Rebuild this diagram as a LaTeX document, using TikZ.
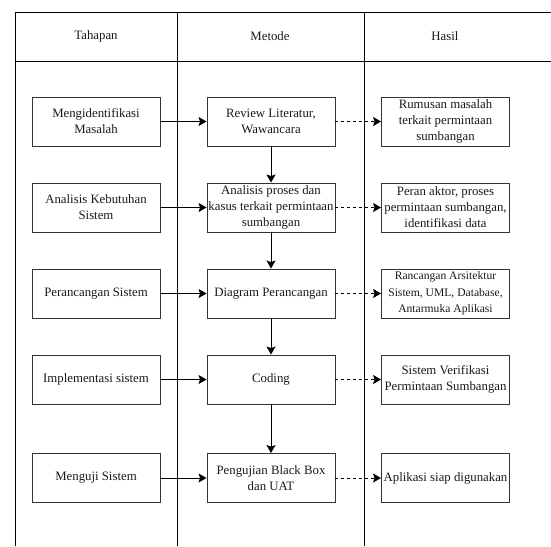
\documentclass[tikz,border=0pt]{standalone}
\usepackage{fontspec}
\setmainfont{Liberation Serif}
\usetikzlibrary{arrows.meta}
\begin{document}
\begin{tikzpicture}[x=1pt,y=-1pt,
  frameline/.style={line width=1pt, black},
  box/.style={draw=black!80, line width=0.9pt, minimum width=128pt, minimum height=49pt,
    inner sep=0pt, align=center, text=black!90, font=\fontsize{12.8}{16}\selectfont},
  smalltext/.style={font=\fontsize{11.6}{16.5}\selectfont},
  head/.style={text=black!90, font=\fontsize{12.8}{16}\selectfont},
  arr/.style={line width=0.9pt, -{Stealth[length=8pt,width=9pt,inset=1.5pt]}},
  darr/.style={arr, dash pattern=on 3pt off 3pt}]
\useasboundingbox (0,0) rectangle (551,546);
% frame
\draw[frameline] (15,12) -- (551,12);
\draw[frameline] (15,61) -- (551,61);
\draw[frameline] (15,12) -- (15,546);
\draw[frameline] (177,12) -- (177,546);
\draw[frameline] (364,12) -- (364,546);
% headers
\node[head] (h1) at (96,36.5) {Tahapan};
\node[head] (h2) at (270,36.5) {Metode};
\node[head] (h3) at (445,36.5) {Hasil};
% left column
\node[box] (l1) at (96,121.5) {Mengidentifikasi\\Masalah};
\node[box] (l2) at (96,207.5) {Analisis Kebutuhan\\Sistem};
\node[box] (l3) at (96,293.5) {Perancangan Sistem};
\node[box] (l4) at (96,379.5) {Implementasi sistem};
\node[box] (l5) at (96,478) {Menguji Sistem};
% middle column
\node[box] (m1) at (271,121.5) {Review Literatur,\\Wawancara};
\node[box] (m2) at (271,207.5) {Analisis proses dan\\kasus terkait permintaan\\sumbangan};
\node[box] (m3) at (271,293.5) {Diagram Perancangan};
\node[box] (m4) at (271,379.5) {Coding};
\node[box] (m5) at (271,478) {Pengujian Black Box\\dan UAT};
% right column
\node[box] (r1) at (445.5,121.5) {Rumusan masalah\\terkait permintaan\\sumbangan};
\node[box] (r2) at (445.5,207.5) {Peran aktor, proses\\permintaan sumbangan,\\identifikasi data};
\node[box,smalltext] (r3) at (445.5,293.5) {Rancangan Arsitektur\\Sistem, UML, Database,\\Antarmuka Aplikasi};
\node[box] (r4) at (445.5,379.5) {Sistem Verifikasi\\Permintaan Sumbangan};
\node[box] (r5) at (445.5,478) {Aplikasi siap digunakan};
% connectors
\foreach \i in {1,...,5} {
  \draw[arr] (l\i) -- (m\i);
  \draw[darr] (m\i) -- (r\i);
}
\draw[arr] (m1) -- (m2);
\draw[arr] (m2) -- (m3);
\draw[arr] (m3) -- (m4);
\draw[arr] (m4) -- (m5);
\end{tikzpicture}
\end{document}
